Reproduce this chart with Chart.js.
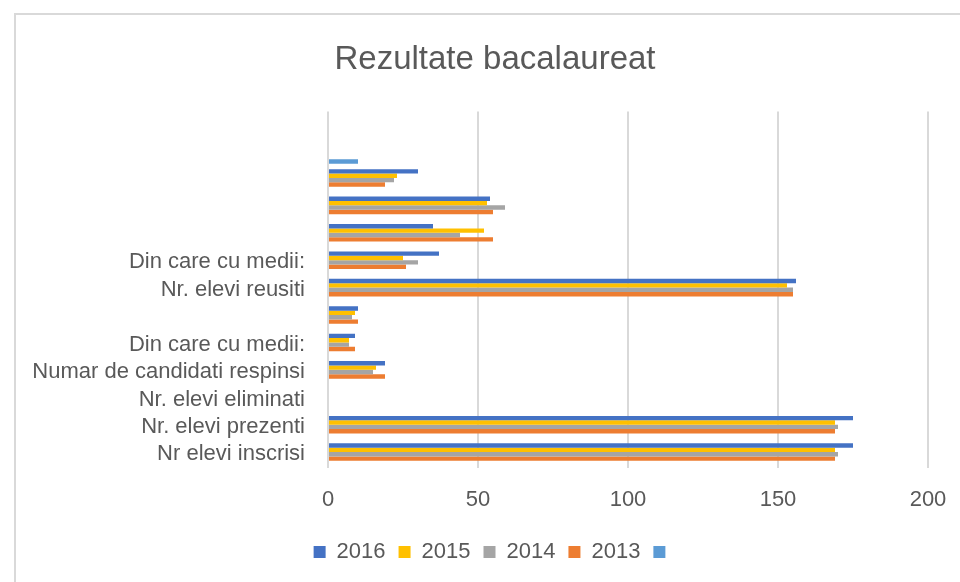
<!DOCTYPE html>
<html><head><meta charset="utf-8">
<script src="https://cdn.jsdelivr.net/npm/chart.js@4"></script>
<style>
html,body{margin:0;padding:0;background:#fff;overflow:hidden;}
#wrap{position:relative;width:960px;height:582px;overflow:hidden;}
#frame{position:absolute;left:14px;top:13px;width:980px;height:600px;border-left:2px solid #d9d9d9;border-top:2px solid #d9d9d9;}
canvas{position:absolute;left:0;top:0;}
</style></head><body>
<div id="wrap"><div id="frame"></div><canvas id="c" width="960" height="582"></canvas></div>
<script>
const chartTitle = 'Rezultate bacalaureat';
const categories = ['Nr elevi inscrisi', 'Nr. elevi prezenti', 'Nr. elevi eliminati', 'Numar de candidati respinsi', 'Din care cu medii:', '', 'Nr. elevi reusiti', 'Din care cu medii:', '', '', '', '', ''];
const seriesNames = ['2016', '2015', '2014', '2013', ''];
const values2016 = [175, 175, null, 19, 9, 10, 156, 37, 35, 54, 30, null, null];
const values2015 = [169, 169, null, 16, 7, 9, 153, 25, 52, 53, 23, null, null];
const values2014 = [170, 170, null, 15, 7, 8, 155, 30, 44, 59, 22, null, null];
const values2013 = [169, 169, null, 19, 9, 10, 155, 26, 55, 55, 19, null, null];
const valuesExtra = [null, null, null, null, null, null, null, null, null, null, null, 10, null];
const xTicks = [0, 50, 100, 150, 200];

const colors = ['#4472C4', '#FFC000', '#A5A5A5', '#ED7D31', '#5B9BD5'];
const allValues = [values2016, values2015, values2014, values2013, valuesExtra];
const FONT = '"Liberation Sans", Arial, sans-serif';
const TXT = '#595959';

new Chart(document.getElementById('c'), {
  type: 'bar',
  data: {
    labels: categories,
    datasets: allValues.map((v, i) => ({
      label: seriesNames[i],
      data: v,
      backgroundColor: colors[i],
      borderWidth: 0,
      barPercentage: 1,
      categoryPercentage: 0.8
    }))
  },
  options: {
    indexAxis: 'y',
    responsive: false,
    animation: false,
    devicePixelRatio: 1,
    layout: { padding: { left: 30, right: 0, top: 0, bottom: 9 } },
    plugins: {
      title: { display: true, text: chartTitle, color: TXT, font: { family: FONT, size: 33, weight: 'normal' }, padding: { top: 40, bottom: 32 } },
      legend: { position: 'bottom', labels: { boxWidth: 12, boxHeight: 12, padding: 13, color: TXT, font: { family: FONT, size: 22 } } },
      tooltip: { enabled: false }
    },
    scales: {
      x: {
        type: 'linear', min: xTicks[0], max: xTicks[xTicks.length - 1],
        afterBuildTicks: s => { s.ticks = xTicks.map(v => ({ value: v })); },
        ticks: { color: TXT, font: { family: FONT, size: 22 }, padding: 19 },
        grid: { color: '#d9d9d9', lineWidth: 2, drawTicks: false },
        border: { display: false },
        afterFit: s => { s.height = 60; s.paddingLeft = 0; s.paddingRight = 0; }
      },
      y: {
        reverse: true,
        ticks: { color: TXT, font: { family: FONT, size: 22 }, padding: 23, autoSkip: false },
        grid: { display: false, drawTicks: false },
        border: { display: false },
        afterFit: s => { s.width = 298; }
      },
      yR: {
        axis: 'y', type: 'linear', position: 'right', display: true,
        ticks: { display: false }, grid: { display: false, drawTicks: false }, border: { display: false },
        afterFit: s => { s.width = 32; s.paddingTop = 0; s.paddingBottom = 0; }
      }
    }
  }
});
</script>
</body></html>
